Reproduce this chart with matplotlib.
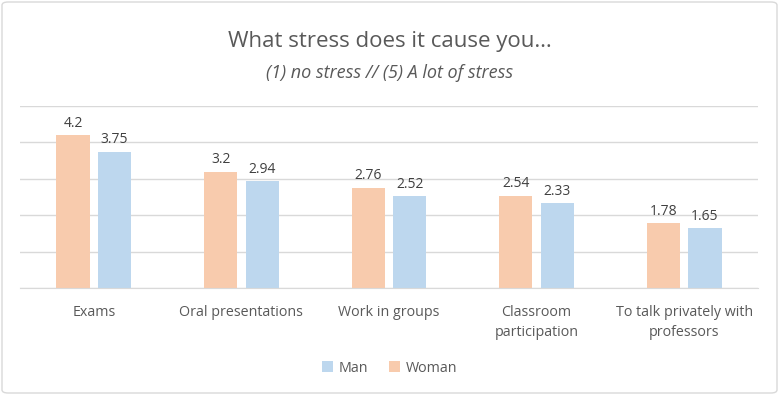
import matplotlib
matplotlib.use("Agg")
import matplotlib.pyplot as plt
import numpy as np
from matplotlib.patches import FancyBboxPatch

categories = ["Exams", "Oral presentations", "Work in groups",
              "Classroom\nparticipation", "To talk privately with\nprofessors"]
woman = [4.2, 3.2, 2.76, 2.54, 1.78]
man = [3.75, 2.94, 2.52, 2.33, 1.65]
woman_labels = ["4.2", "3.2", "2.76", "2.54", "1.78"]
man_labels = ["3.75", "2.94", "2.52", "2.33", "1.65"]

C_WOMAN = "#F8CBAD"
C_MAN = "#BDD7EE"
TXT = "#595959"

plt.rcParams["font.family"] = ["Open Sans", "DejaVu Sans"]

fig = plt.figure(figsize=(7.79, 3.95), dpi=100)
ax = fig.add_axes([20 / 779, 106.7 / 395, 738 / 779, 182.3 / 395])

x = np.arange(len(categories))
w = 0.224
off = 0.141
b1 = ax.bar(x - off, woman, w, color=C_WOMAN, label="Woman", zorder=2)
b2 = ax.bar(x + off, man, w, color=C_MAN, label="Man", zorder=2)

for bars, labels in ((b1, woman_labels), (b2, man_labels)):
    for r, t in zip(bars, labels):
        ax.text(r.get_x() + r.get_width() / 2, r.get_height() + 0.12, t,
                ha="center", va="bottom", fontsize=10, color="#404040")

ax.set_xlim(-0.5, len(categories) - 0.5)
ax.set_ylim(0, 5)
ax.set_yticks(np.arange(0, 6, 1))
ax.yaxis.grid(True, color="#D9D9D9", lw=1, zorder=0)
ax.tick_params(axis="y", left=False, labelleft=False)
ax.set_xticks(x)
ax.set_xticklabels(categories, fontsize=10.3, color=TXT, va="top", linespacing=1.45)
ax.tick_params(axis="x", length=0, pad=12)
for s in ("top", "right", "left"):
    ax.spines[s].set_visible(False)
ax.spines["bottom"].set_color("#D9D9D9")

fig.text(0.5, 1 - 42 / 395, "What stress does it cause you…", ha="center",
         va="center", fontsize=16, color=TXT)
fig.text(0.5, 1 - 73 / 395, "(1) no stress // (5) A lot of stress", ha="center",
         va="center", fontsize=13, color=TXT, style="italic")

handles = [b2, b1]
fig.legend(handles, ["Man", "Woman"], loc="center", bbox_to_anchor=(0.5, 1 - 368 / 395),
           ncol=2, frameon=False, fontsize=10.3, labelcolor=TXT,
           handlelength=0.75, handleheight=0.75, handletextpad=0.4, columnspacing=1.5)

border = FancyBboxPatch((2 / 779, 2 / 395), 775 / 779, 391 / 395,
                        boxstyle="round,pad=0,rounding_size=0.008",
                        transform=fig.transFigure, fill=False,
                        edgecolor="#D9D9D9", lw=1)
fig.patches.append(border)

fig.savefig("out.png", dpi=100)
